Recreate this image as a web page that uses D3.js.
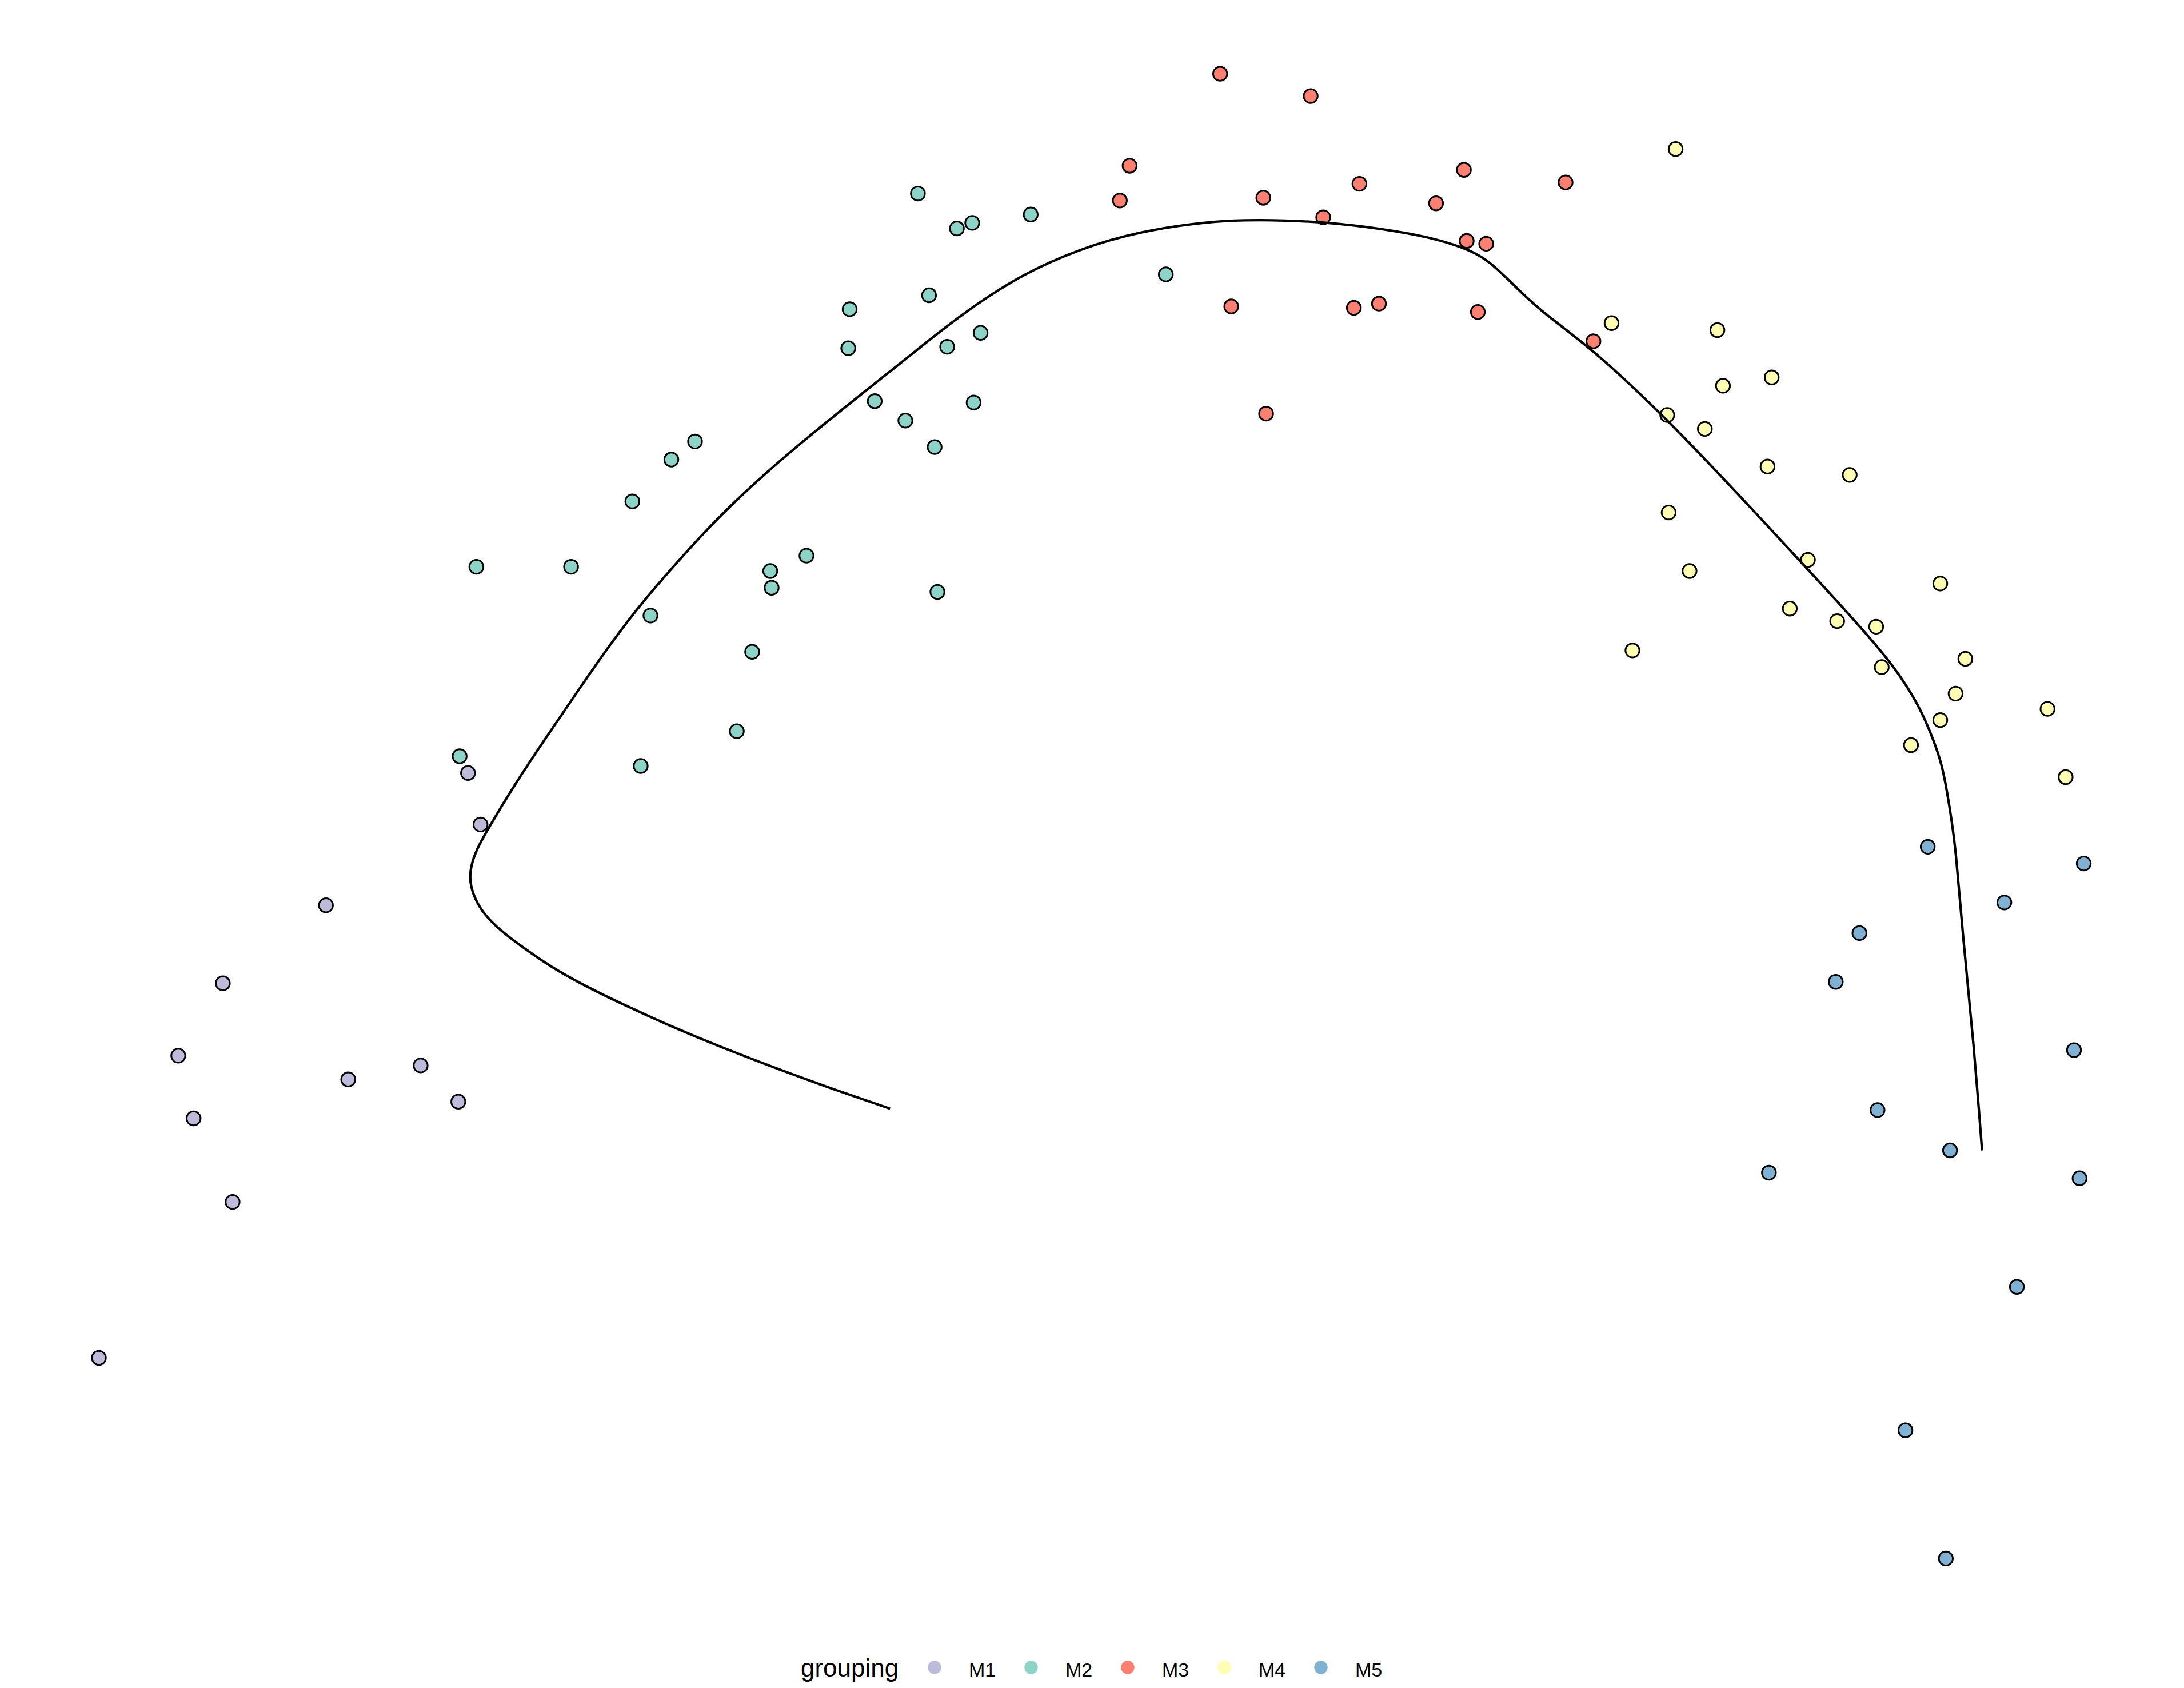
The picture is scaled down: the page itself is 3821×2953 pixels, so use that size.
<!DOCTYPE html>
<html>
<head>
<meta charset="utf-8">
<title>grouping curve</title>
<script src="https://d3js.org/d3.v7.min.js"></script>
<style>
  html, body { margin: 0; padding: 0; background: #fff; }
  text { font-family: "Liberation Sans", Arial, sans-serif; }
</style>
</head>
<body>
<div id="chart"></div>
<script>
// values (reference units, y grows downwards)
var groups = ["M1", "M2", "M3", "M4", "M5"];
var groupColors = ["#BEBADA", "#8DD3C7", "#FB8072", "#FFFFB3", "#80B1D3"];

var m1 = [[336,555],[345,592],[234,650],[160,706],[128,758],[139,803],[250,775],[302,765],[329,791],[167,863],[71,975]];
var m2 = [[659,139],[687,164],[698,160],[740,154],[610,222],[667,212],[609,250],[680,249],[704,239],[628,288],
          [650,302],[699,289],[671,321],[837,197],[482,330],[499,317],[454,360],[342,407],[410,407],[553,410],
          [554,422],[579,399],[467,442],[673,425],[540,468],[529,525],[330,543],[460,550]];
var m3 = [[876,53],[941,69],[811,119],[804,144],[907,142],[976,132],[950,156],[1051,122],[1031,146],[1124,131],
          [1053,173],[1067,175],[884,220],[972,221],[990,218],[1061,224],[1144,245],[909,297]];
var m4 = [[1203,107],[1157,232],[1233,237],[1237,277],[1272,271],[1197,298],[1224,308],[1269,335],[1328,341],[1198,368],
          [1213,410],[1298,402],[1393,419],[1285,437],[1319,446],[1347,450],[1172,467],[1351,479],[1411,473],[1404,498],
          [1470,509],[1393,517],[1372,535],[1483,558]];
var m5 = [[1384,608],[1496,620],[1439,648],[1335,670],[1318,705],[1489,754],[1348,797],[1400,826],[1270,842],[1493,846],
          [1448,924],[1368,1027],[1397,1119]];

// fitted principal curve
var curvePts = [[639,796],[598,782],[557,767],[518,752],[482,737],[449,722],[420,708],[395,694],[375,680],[359,668],
                [348,657],[341,646],[337,633],[338,622],[342,610],[351,594],[369,564],[393,528],[417,493],[437,464],
                [459,435],[484,406],[514,373],[548,341],[580,314],[612,288],[645,262],[676,237],[700,219],[734,197],
                [774,179],[818,166],[868,159],[894,158],[920,158],[959,160],[1004,166],[1033,172],[1054,179],[1069,187],
                [1088,206],[1108,225],[1144,251],[1197,301],[1250,357],[1300,411],[1354,470],[1372,497],[1381,514],
                [1388,531],[1394,548],[1398,569],[1401,588],[1404,609],[1408,657],[1412,700],[1417,750],[1421,800],[1423,826]];

var width = 3821, height = 2953;

var x = d3.scaleLinear().domain([0, 1568]).range([0, width]);
var y = d3.scaleLinear().domain([0, 1212]).range([0, height]);
var color = d3.scaleOrdinal().domain(groups).range(groupColors);

var svg = d3.select("#chart").append("svg")
  .attr("width", width)
  .attr("height", height);

var allPoints = [];
[m1, m2, m3, m4, m5].forEach(function(arr, i) {
  arr.forEach(function(p) { allPoints.push({x: p[0], y: p[1], g: groups[i]}); });
});

svg.append("g")
  .selectAll("circle")
  .data(allPoints)
  .enter()
  .append("circle")
    .attr("cx", function(d) { return x(d.x); })
    .attr("cy", function(d) { return y(d.y); })
    .attr("r", 12.2)
    .attr("fill", function(d) { return color(d.g); })
    .attr("stroke", "black")
    .attr("stroke-width", 3);

var line = d3.line()
  .x(function(d) { return x(d[0]); })
  .y(function(d) { return y(d[1]); })
  .curve(d3.curveBasis);

svg.append("path")
  .datum(curvePts)
  .attr("d", line)
  .attr("fill", "none")
  .attr("stroke", "black")
  .attr("stroke-width", 4.3);

// legend
var legend = svg.append("g").attr("transform", "translate(0,2917)");

legend.append("text")
  .attr("x", 1401)
  .attr("y", 16)
  .style("font-size", "44px")
  .text("grouping");

var item = legend.selectAll("g.item")
  .data(groups)
  .enter()
  .append("g")
    .attr("class", "item")
    .attr("transform", function(d, i) { return "translate(" + (1635 + i * 169) + ",0)"; });

item.append("circle")
  .attr("r", 11.7)
  .attr("fill", function(d) { return color(d); });

item.append("text")
  .attr("x", 60)
  .attr("y", 16)
  .style("font-size", "34px")
  .text(function(d) { return d; });
</script>
</body>
</html>
